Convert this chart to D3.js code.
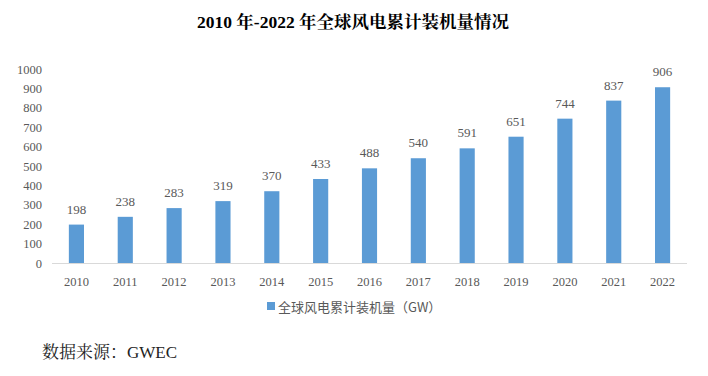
<!DOCTYPE html>
<html><head><meta charset="utf-8">
<script src="https://cdn.jsdelivr.net/npm/d3@7"></script>
<style>body{margin:0;background:#fff;}svg{display:block;}</style>
</head><body>
<script>
const years = ["2010","2011","2012","2013","2014","2015","2016","2017","2018","2019","2020","2021","2022"];
const capacity = [198,238,283,319,370,433,488,540,591,651,744,837,906];
const yTicks = [0,100,200,300,400,500,600,700,800,900,1000];
const titleText = "2010 年-2022 年全球风电累计装机量情况";
const legendText = "全球风电累计装机量（GW）";
const sourceText = "数据来源：GWEC";

const W = 708, H = 376;
const svg = d3.select("body").append("svg").attr("width", W).attr("height", H);
const serif = "'Liberation Serif','Times New Roman','Noto Serif CJK SC','Noto Sans CJK SC',serif";
const grey = "#595959";

const x = d3.scaleBand().domain(years).range([52, 687]).paddingInner(0.69).paddingOuter(0.345);
const y = d3.scaleLinear().domain([0, 1000]).range([263, 69]);

svg.append("text").attr("x", 353).attr("y", 28).attr("text-anchor", "middle")
  .style("font-family", serif)
  .attr("font-weight", "bold").attr("font-size", 17.5).attr("fill", "#000").text(titleText);

// y axis labels
const ya = svg.append("g").attr("transform", "translate(42,0)")
  .call(d3.axisLeft(y).tickValues(yTicks).tickFormat(d3.format("d")).tickSize(0).tickPadding(0));
ya.select(".domain").remove();
ya.selectAll("text").style("font-family", serif).attr("font-size", 12.5).attr("fill", grey);

// x axis
const xa = svg.append("g").attr("transform", "translate(0,263)")
  .call(d3.axisBottom(x).tickSize(0).tickPadding(14));
xa.select(".domain").attr("stroke", "#d9d9d9").attr("d", "M52,0.5H687");
xa.selectAll("text").style("font-family", serif).attr("font-size", 12.5).attr("fill", grey);

svg.append("g").selectAll("rect").data(capacity).join("rect")
  .attr("x", (d, i) => x(years[i])).attr("width", x.bandwidth())
  .attr("y", d => y(d)).attr("height", d => y(0) - y(d))
  .attr("fill", "#5B9BD5");

svg.append("g").selectAll("text").data(capacity).join("text")
  .attr("x", (d, i) => x(years[i]) + x.bandwidth() / 2)
  .attr("y", d => y(d) - 11)
  .attr("text-anchor", "middle").style("font-family", serif).attr("font-size", 13)
  .attr("fill", grey).text(d => d);

// legend
svg.append("rect").attr("x", 267).attr("y", 302).attr("width", 8).attr("height", 8).attr("fill", "#5B9BD5");
svg.append("text").attr("x", 278).attr("y", 311.5).style("font-family", "'Noto Sans CJK SC',sans-serif")
  .attr("font-size", 13).attr("fill", grey).text(legendText);

svg.append("text").attr("x", 42).attr("y", 358)
  .style("font-family", serif).attr("font-size", 17).attr("fill", "#222").text(sourceText);
</script>
</body></html>
